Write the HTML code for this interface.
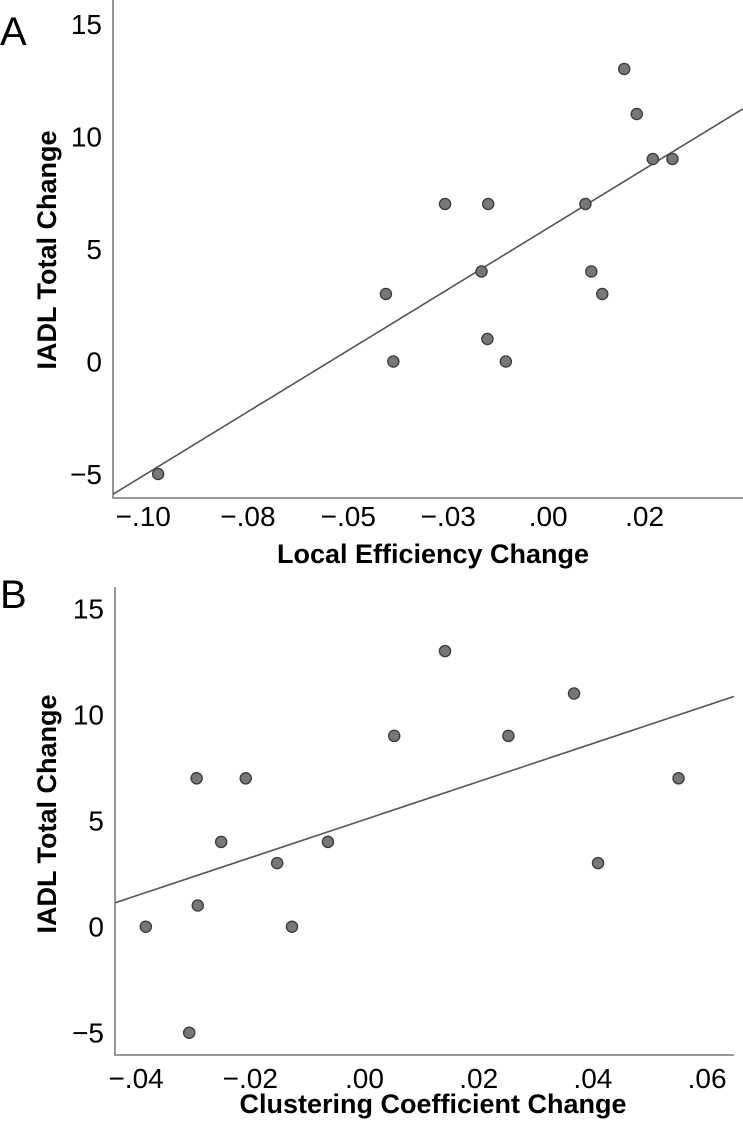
<!DOCTYPE html>
<html><head><meta charset="utf-8"><style>
html,body{margin:0;padding:0;background:#fff;}
svg{display:block;font-family:"Liberation Sans",Arial,sans-serif;}
</style></head><body>
<svg id="fig" width="743" height="1122" viewBox="0 0 743 1122">
<text x="0" y="45" font-size="40">A</text>
<text x="0" y="608" font-size="40">B</text>
<text transform="translate(56,250) rotate(-90)" text-anchor="middle" font-size="27" font-weight="bold">IADL Total Change</text>
<text transform="translate(56,814) rotate(-90)" text-anchor="middle" font-size="27" font-weight="bold">IADL Total Change</text>
<text x="433" y="563" text-anchor="middle" font-size="27" font-weight="bold">Local Efficiency Change</text>
<text x="433" y="1113" text-anchor="middle" font-size="27" font-weight="bold">Clustering Coefficient Change</text>
</svg>
<script>
// Panel A data
const aX = [-0.1004,-0.0423,-0.0404,-0.0272,-0.0179,-0.0162,-0.0164,-0.0117,0.0086,0.0101,0.0129,0.0185,0.0217,0.0258,0.0308];
const aY = [-5,3,0,7,4,7,1,0,7,4,3,13,11,9,9];
const aXTicks = [-0.1042,-0.0775,-0.0519,-0.0264,-0.0009,0.0237];
const aXTickLabels = ["\u2212.10","\u2212.08","\u2212.05","\u2212.03",".00",".02"];
const aYTicks = [-5,0,5,10,15];
const aFit = [6.03,106.6]; // intercept, slope
// Panel B data
const bX = [-0.0383,-0.0307,-0.0294,-0.0292,-0.0251,-0.0208,-0.0153,-0.0127,-0.0064,0.0052,0.0141,0.0252,0.0367,0.0409,0.0550];
const bY = [0,-5,7,1,4,7,3,0,4,9,13,9,11,3,7];
const bXTicks = [-0.04,-0.02,0,0.02,0.04,0.06];
const bXTickLabels = ["\u2212.04","\u2212.02",".00",".02",".04",".06"];
const bYTicks = [-5,0,5,10,15];
const bFit = [5.05,89.8];

const NS="http://www.w3.org/2000/svg";
const svg=document.getElementById('fig');
function mk(tag,attrs,parent){const e=document.createElementNS(NS,tag);for(const k in attrs)e.setAttribute(k,attrs[k]);(parent||svg).appendChild(e);return e;}

function panel(cfg){
  const {id,xs,ys,xt,xtl,yt,fit,left,right,top,bottom,x0,sx,y0,sy,xlabY}=cfg;
  const X=v=>x0+v*sx, Y=v=>y0-v*sy;
  const g=mk('g',{});
  
  
  const clip=mk('clipPath',{id:'clip-'+id},g);
  mk('rect',{x:left,y:top,width:right-left,height:bottom-top},clip);
  const ax=mk('path',{d:`M${left},${top} V${bottom} H${right}`,fill:'none',stroke:'#8a8a8a','stroke-width':1.8},g);
  
  
  yt.forEach(v=>{
    const t=mk('text',{x:left-11,y:Y(v)+10,'text-anchor':'end','font-size':28},g);
    t.textContent=v<0?'\u2212'+Math.abs(v):String(v);
    
    
  });
  xt.forEach((v,i)=>{
    const t=mk('text',{x:X(v),y:xlabY,'text-anchor':'middle','font-size':28},g);
    t.textContent=xtl[i];
    
    
  });
  const xa=(left-x0)/sx, xb=(right-x0)/sx;
  const ln=mk('line',{x1:X(xa),y1:Y(fit[0]+fit[1]*xa),x2:X(xb),y2:Y(fit[0]+fit[1]*xb),stroke:'#555','stroke-width':1.6,'clip-path':`url(#clip-${id})`},g);
  
  
  xs.forEach((v,i)=>{
    const c=mk('circle',{cx:X(v),cy:Y(ys[i]),r:5.6,fill:'#777',stroke:'#3a3a3a','stroke-width':1.3},g);
    
    
  });
}
panel({id:'a',xs:aX,ys:aY,xt:aXTicks,xtl:aXTickLabels,yt:aYTicks,fit:aFit,left:113,right:743,top:0,bottom:498,x0:551.7,sx:3920,y0:361.5,sy:22.5,xlabY:526});
panel({id:'b',xs:bX,ys:bY,xt:bXTicks,xtl:bXTickLabels,yt:bYTicks,fit:bFit,left:115,right:734,top:587,bottom:1055,x0:364.5,sx:5710,y0:926.7,sy:21.2,xlabY:1088});
</script>
</body></html>
